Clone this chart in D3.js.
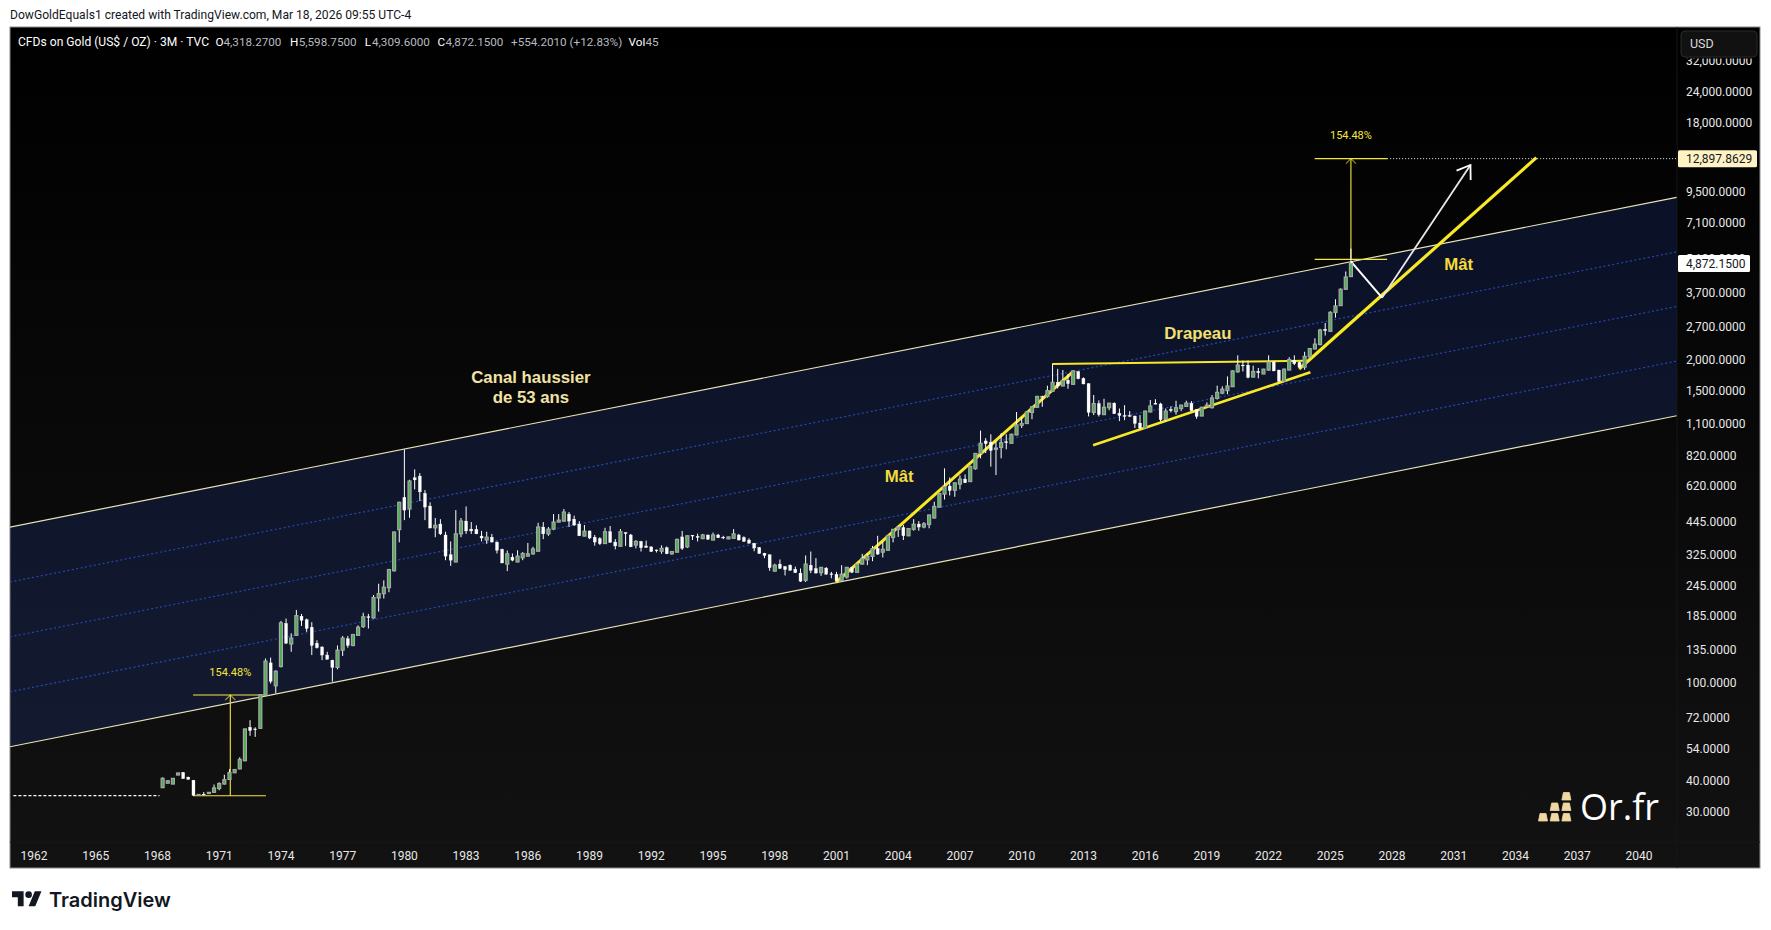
<!DOCTYPE html>
<html>
<head>
<meta charset="utf-8">
<title>CFDs on Gold</title>
<script src="https://cdn.jsdelivr.net/npm/d3@7"></script>
<style>
	html, body { margin:0; padding:0; background:#fff; }
	svg { display:block; }
	text { font-family:Roboto, sans-serif; }
</style>
</head>
<body>
<svg id="chart" width="1771" height="930"></svg>
<script>
// quarterly candles, first one is Q2 1968
var firstQuarter = 1968.25;
var opens = [37.7,39.3,39,42.4,43.4,41.6,40.4,35.1,35.5,35.7,36.1,37.4,39,40.7,43.3,44.9,48.4,66,65,65.4,
	89,120,97,116,173,143,155,185,179,167,144,139,129,123,115,135,150,141,155,168,
	184,182,219,228,241,282,413,557,500,668,679,578,514,420,435,393,327,306,397,447,
	415,414,389,375,385,368,344,300,320,306,318,323,330,338,423,397,415,443,447,477,
	455,435,389,408,385,380,363,405,368,354,402,393,358,370,355,352,342,338,349,330,
	335,386,352,392,388,380,393,375,393,385,379,381,393,384,375,364,350,332,327,281,
	300,293,297,286,276,258,297,288,277,289,274,273,257,266,290,278,300,312,322,347,
	335,341,384,414,421,390,414,435,423,433,460,509,574,619,595,630,660,645,727,838,
	940,930,870,885,933,920,994,1087,1105,1225,1285,1420,1420,1490,1620,1565,1650,1590,1790,1680,
	1600,1225,1330,1200,1280,1335,1215,1190,1190,1185,1110,1060,1230,1335,1325,1150,1260,1235,1270,1295,
	1335,1260,1185,1295,1280,1395,1465,1500,1555,1785,1900,1900,1700,1790,1750,1815,1955,1815,1635,1815,
	1980,1950,1865,2050,2206,2300,2650,2600,3095,3300,3840,4318.27];
var highs = [41.5,40.3,41.2,43.3,43.6,41.7,40.5,35.4,36.2,36.1,38.8,39.6,42.5,44.8,44.7,50,65.2,70.5,66,89.5,
	125,126,112,177,181,158,196,189,181,175,148,140,133,123.5,141,154,154,157,170,191,
	189,225,250,258,287,405,535,870,656,722,698,596,532,460,455,405,370,495,460,512,
	443,430,408,405,397,370,346,340,331,341,335,365,352,440,443,423,477,477,500,486,
	470,447,431,409,393,385,420,427,378,415,403,397,375,372,373,353,343,357,353,338,
	380,408,391,393,398,397,394,402,397,390,387,415,397,388,381,365,351,333,328,301,
	313,295,299,293,288,325,337,317,292,292,279,279,297,292,292,301,330,330,355,390,
	370,393,415,428,431,418,455,447,443,475,535,580,729,670,640,683,689,745,840,1035,
	965,1000,938,1010,1000,1005,1230,1175,1240,1295,1430,1430,1570,1915,1835,1815,1750,1810,1800,1695,
	1605,1440,1370,1390,1335,1345,1270,1310,1240,1188,1195,1245,1375,1385,1340,1270,1295,1365,1310,1365,
	1360,1262,1285,1345,1440,1570,1560,1710,1810,2080,1980,1980,1890,1850,1835,2080,1975,1818,1840,2045,
	2080,1960,2150,2225,2436,2660,2810,3130,3500,3870,4530,5598.75];
var lows = [37.6,39.2,38.9,42.3,41,40.6,35,35,35.2,35.6,36,36.8,38.8,40.5,43.2,44.7,48.2,61,60.4,65,
	88.5,99,90.5,115,143,133,154,169,160,129,137,123,124,100.8,113,128,138,140,154,166,
	165,181,193,218,231,280,367,451,461,600,538,451,419,385,393,311,295,305,385,397,
	397,396,370,362,367,331,303,281,308,305,311,322,327,337,378,390,411,441,445,423,
	427,389,388,378,356,358,362,366,344,353,355,351,347,337,349,336,334,330,329,327,
	334,342,348,375,370,378,375,374,382,378,378,380,374,369,363,338,330,317,282,280,
	287,270,282,276,254,254,276,275,269,272,263,256,256,262,276,277,299,297,308,327,
	319,340,367,386,375,389,409,409,418,418,458,508,546,567,560,600,636,644,720,800,
	840,741,685,800,870,918,992,1060,1103,1150,1283,1290,1405,1480,1530,1563,1525,1585,1665,1590,
	1180,1195,1180,1198,1250,1208,1130,1140,1178,1060,1050,1058,1228,1320,1125,1125,1225,1200,1240,1290,
	1245,1155,1183,1290,1270,1380,1450,1450,1553,1770,1790,1680,1698,1680,1748,1800,1795,1620,1633,1813,
	1900,1850,1820,2040,2203,2280,2500,2590,2950,3290,3830,4309.6];
var closes = [41.1,40.2,41.1,43.2,41,40.7,35.1,35.4,35.4,36.1,37.6,39.2,40.6,43.4,44.6,49,65,64,64.5,89.3,
	122,101,111,174,144,151,186,178,165,141,138,129,124,115,135,151,141,156,167,184,
	183,220,228,242,285,404,532,495,648,655,586,509,419,430,397,323,311,397,447,408,
	408,397,382,385,368,341,303,330,311,323,331,330,345,423,397,415,443,451,486,447,
	431,390,407,382,368,362,405,367,355,405,398,352,370,349,350,337,340,347,330,337,
	377,347,390,389,384,393,378,393,383,383,386,397,375,370,364,348,331,325,290,297,
	288,285,283,277,256,300,283,276,291,273,273,257,273,291,278,300,316,323,346,329,
	344,391,414,423,390,417,434,423,436,473,512,578,616,593,637,660,638,743,837,920,
	917,860,880,925,925,1000,1091,1105,1230,1290,1420,1415,1500,1620,1565,1650,1600,1800,1675,1595,
	1225,1330,1200,1285,1335,1210,1190,1183,1180,1105,1060,1240,1300,1322,1145,1240,1245,1280,1310,1335,
	1245,1180,1285,1310,1400,1475,1520,1565,1800,1900,1890,1695,1790,1770,1830,1955,1800,1635,1830,2000,
	1925,1865,2060,2215,2308,2630,2615,3100,3288,3840,4302,4872.15];

var yearTicks = [1962,1965,1968,1971,1974,1977,1980,1983,1986,1989,1992,1995,1998,2001,2004,2007,2010,2013,2016,2019,2022,2025,2028,2031,2034,2037,2040];
var priceTicks = [32000,24000,18000,9500,7100,5100,3700,2700,2000,1500,1100,820,620,445,325,245,185,135,100,72,54,40,30];

// channel borders [year, price]
var channelTop = [[1960.83,423],[2041.83,9012]];
var channelBottom = [[1960.83,55.1],[2041.83,1188]];
var channelLevels = [0.25,0.5,0.75];

// drawings [year, price]
var mast1 = [[2000.97,253],[2012.5,1787]];
var mast2 = [[2023.48,1833],[2035.01,13014]];
var flagTop = [[2011.48,1920],[2023.84,1979]];
var flagBottom = [[2013.47,903],[2024.03,1778]];
var whitePath = [[2026.01,4960],[2027.51,3552],[2031.81,12155]];
var preHistory = [[1961,35],[1968.1,35]];

// measure tools: base price, target price, years
var measures = [
	{ from:1969.73, to:1973.27, mid:1971.54, low:35, high:89.07, labelPrice:110.5 },
	{ from:2024.24, to:2027.76, mid:2026, low:5068.2, high:12897.8629, labelPrice:16060 }
];
var lastClose = 4872.15;
var targetPrice = 12897.8629;

var notes = [
	{ text:"Canal haussier", year:1986.15, price:1701, color:"#f3e2a6", size:16.8 },
	{ text:"de 53 ans", year:1986.15, price:1401, color:"#f3e2a6", size:16.8 },
	{ text:"Mât", year:2004.05, price:674, color:"#f4dc3c", size:16.8 },
	{ text:"Mât", year:2031.24, price:4853, color:"#f4dc3c", size:16.8 },
	{ text:"Drapeau", year:2018.56, price:2559, color:"#f3e070", size:16.8 }
];

var paneLeft = 10, paneTop = 27, paneRight = 1760, paneBottom = 868;
var plotRight = 1677, plotBottom = 842;

var x = d3.scaleLinear().domain([1962,2040]).range([34,1639]);
var y = d3.scaleLog().domain([30,24000]).range([812.3,91.7]);

var svg = d3.select("#chart");
var defs = svg.append("defs");

var bgGrad = defs.append("linearGradient").attr("id","paneBg")
	.attr("x1","0%").attr("y1","0%").attr("x2","0%").attr("y2","100%");
bgGrad.append("stop").attr("offset","0").attr("stop-color","#000000");
bgGrad.append("stop").attr("offset","1").attr("stop-color","#121212");

defs.append("clipPath").attr("id","plotClip").append("rect")
	.attr("x",paneLeft).attr("y",paneTop)
	.attr("width",plotRight-paneLeft).attr("height",plotBottom-paneTop);

// ---- frame and attribution
svg.append("text").attr("x",10).attr("y",19)
	.attr("fill","#131722").style("font-size","12.1px")
	.text("DowGoldEquals1 created with TradingView.com, Mar 18, 2026 09:55 UTC-4");

svg.append("rect").attr("x",paneLeft).attr("y",paneTop)
	.attr("width",paneRight-paneLeft).attr("height",paneBottom-paneTop)
	.attr("fill","url(#paneBg)").attr("stroke","#8a8a8a").attr("stroke-width",1);

svg.append("line").attr("x1",plotRight).attr("x2",plotRight).attr("y1",paneTop).attr("y2",paneBottom)
	.attr("stroke","#161616");
svg.append("line").attr("x1",paneLeft).attr("x2",paneRight).attr("y1",plotBottom).attr("y2",plotBottom)
	.attr("stroke","#161616");

var plot = svg.append("g").attr("clip-path","url(#plotClip)");
var toLine = d3.line().x(function(d){ return x(d[0]); }).y(function(d){ return y(d[1]); });

// ---- channel
var channelArea = channelTop.concat(channelBottom.slice().reverse());
plot.append("path").attr("d",toLine(channelArea)+"Z")
	.attr("fill","rgb(35,70,170)").attr("fill-opacity",0.22);

channelLevels.forEach(function(level){
	var points = channelTop.map(function(d,i){
		var lo = Math.log(channelBottom[i][1]), hi = Math.log(d[1]);
		return [d[0], Math.exp(lo+(hi-lo)*level)];
	});
	plot.append("path").attr("d",toLine(points))
		.attr("fill","none").attr("stroke","#2548b4").attr("stroke-width",1.2)
		.attr("stroke-dasharray","2 2.5");
});
[channelTop,channelBottom].forEach(function(border){
	plot.append("path").attr("d",toLine(border))
		.attr("fill","none").attr("stroke","#e8e4b8").attr("stroke-width",1.2);
});

// ---- dashed flat price before the first candle
plot.append("path").attr("d",toLine(preHistory))
	.attr("fill","none").attr("stroke","#ffffff").attr("stroke-width",1.2)
	.attr("stroke-dasharray","3 2");

// ---- thick yellow drawings
[[mast1,3],[mast2,3.2],[flagBottom,2.6],[flagTop,2]].forEach(function(d){
	plot.append("path").attr("d",toLine(d[0]))
		.attr("fill","none").attr("stroke","#f9e825").attr("stroke-width",d[1]);
});

// ---- measure tools
measures.forEach(function(m){
	var g = plot.append("g").attr("stroke","#f5e63a").attr("fill","none").attr("stroke-width",1.1);
	g.append("line").attr("x1",x(m.from)).attr("x2",x(m.to)).attr("y1",y(m.low)).attr("y2",y(m.low));
	g.append("line").attr("x1",x(m.from)).attr("x2",x(m.to)).attr("y1",y(m.high)).attr("y2",y(m.high));
	g.append("line").attr("x1",x(m.mid)).attr("x2",x(m.mid)).attr("y1",y(m.low)).attr("y2",y(m.high));
	g.append("path").attr("stroke-opacity",0.6)
		.attr("d","M"+(x(m.mid)-5)+","+(y(m.high)+5)+"L"+x(m.mid)+","+y(m.high)+"L"+(x(m.mid)+5)+","+(y(m.high)+5));
	plot.append("text").attr("x",x(m.mid)).attr("y",y(m.labelPrice)+4)
		.attr("text-anchor","middle").attr("fill","#f5e63a").style("font-size","11px")
		.text("154.48%");
});

// dotted target line
plot.append("line").attr("x1",x(measures[1].to)).attr("x2",plotRight)
	.attr("y1",y(targetPrice)).attr("y2",y(targetPrice))
	.attr("stroke","#eeeeee").attr("stroke-width",1).attr("stroke-dasharray","1 2");

// ---- white scenario path
plot.append("path").attr("d",toLine(whitePath.slice(0,2)))
	.attr("fill","none").attr("stroke","#ffffff").attr("stroke-width",2);
plot.append("path").attr("d",toLine(whitePath.slice(1)))
	.attr("fill","none").attr("stroke","#e8e8e8").attr("stroke-width",1.8);
var tip = whitePath[2], back = whitePath[1];
var angle = Math.atan2(y(back[1])-y(tip[1]), x(back[0])-x(tip[0]));
var headLen = 15;
plot.append("path")
	.attr("d","M"+(x(tip[0])+headLen*Math.cos(angle-0.6))+","+(y(tip[1])+headLen*Math.sin(angle-0.6))
		+"L"+x(tip[0])+","+y(tip[1])
		+"L"+(x(tip[0])+headLen*Math.cos(angle+0.6))+","+(y(tip[1])+headLen*Math.sin(angle+0.6)))
	.attr("fill","none").attr("stroke","#ffffff").attr("stroke-width",1.8);

// ---- candles
var candles = d3.range(opens.length);
var candle = plot.append("g").selectAll("g").data(candles).enter().append("g");
candle.append("line")
	.attr("x1",function(i){ return x(firstQuarter+i/4); })
	.attr("x2",function(i){ return x(firstQuarter+i/4); })
	.attr("y1",function(i){ return y(highs[i]); })
	.attr("y2",function(i){ return y(lows[i]); })
	.attr("stroke","#ffffff").attr("stroke-width",1);
candle.append("rect")
	.attr("x",function(i){ return x(firstQuarter+i/4)-1.5; })
	.attr("width",3)
	.attr("y",function(i){ return y(Math.max(opens[i],closes[i])); })
	.attr("height",function(i){ return Math.max(0.8,Math.abs(y(opens[i])-y(closes[i]))); })
	.attr("fill",function(i){ return closes[i]>=opens[i] ? "#4caf50" : "#ffffff"; })
	.attr("stroke",function(i){ return closes[i]>=opens[i] ? "#a6a6a6" : "#ffffff"; })
	.attr("stroke-width",function(i){ return closes[i]>=opens[i] ? 1.2 : 0.3; });

// ---- text notes
notes.forEach(function(n){
	plot.append("text").attr("x",x(n.year)).attr("y",y(n.price)+5.5)
		.attr("text-anchor","middle").attr("fill",n.color)
		.style("font-family","'Liberation Sans', Arial, sans-serif")
		.style("font-weight","bold").style("font-size",n.size+"px")
		.text(n.text);
});

// ---- time axis
svg.append("g").selectAll("text").data(yearTicks).enter().append("text")
	.attr("x",function(d){ return x(d); }).attr("y",860)
	.attr("text-anchor","middle").attr("fill","#e8e8e8").style("font-size","12px")
	.text(function(d){ return d; });

// ---- price axis
var priceFmt = d3.format(",.4f");
svg.append("g").selectAll("text").data(priceTicks).enter().append("text")
	.attr("x",1686).attr("y",function(d){ return y(d)+4; })
	.attr("fill","#e8e8e8").style("font-size","12px")
	.text(function(d){ return priceFmt(d); });

// last price and target labels
var axisLabels = [
	{ value:targetPrice, fill:"#fff3c4", width:79 },
	{ value:lastClose, fill:"#ffffff", width:72 }
];
axisLabels.forEach(function(l){
	svg.append("rect").attr("x",1678).attr("y",y(l.value)-8.5)
		.attr("width",l.width).attr("height",17).attr("rx",1.5).attr("fill",l.fill);
	svg.append("text").attr("x",1686).attr("y",y(l.value)+4)
		.attr("fill","#131722").style("font-size","12px")
		.text(priceFmt(l.value));
});

// USD button, it covers the top of the 32,000 tick
svg.append("rect").attr("x",1678).attr("y",28).attr("width",81).attr("height",30.5).attr("fill","#000000");
svg.append("rect").attr("x",1681).attr("y",31).attr("width",76).attr("height",26).attr("rx",4)
	.attr("fill","#111111").attr("stroke","#2b2b2b");
svg.append("text").attr("x",1690).attr("y",48).attr("fill","#d8d8d8").style("font-size","12.5px").text("USD");

// ---- legend line
var legendTitle = "CFDs on Gold (US$ / OZ) · 3M · TVC";
var legendParts = [
	{ x:18, text:legendTitle, color:"#ffffff", size:12.1 },
	{ x:215.6, text:"O", color:"#ffffff", size:11.7 }, { x:223.5, text:"4,318.2700", color:"#b7b9c0", size:11.7 },
	{ x:290, text:"H", color:"#ffffff", size:11.7 }, { x:298.7, text:"5,598.7500", color:"#b7b9c0", size:11.7 },
	{ x:364.7, text:"L", color:"#ffffff", size:11.7 }, { x:372, text:"4,309.6000", color:"#b7b9c0", size:11.7 },
	{ x:437.5, text:"C", color:"#ffffff", size:11.7 }, { x:445.5, text:"4,872.1500", color:"#b7b9c0", size:11.7 },
	{ x:511, text:"+554.2010 (+12.83%)", color:"#b7b9c0", size:11.7 },
	{ x:628.6, text:"Vol", color:"#ffffff", size:11.7 }, { x:645.5, text:"45", color:"#b7b9c0", size:11.7 }
];
svg.append("g").selectAll("text").data(legendParts).enter().append("text")
	.attr("x",function(d){ return d.x; }).attr("y",46)
	.attr("fill",function(d){ return d.color; }).style("font-size",function(d){ return d.size+"px"; })
	.text(function(d){ return d.text; });

// ---- Or.fr logo
var barRows = [[0,0],[1,0],[2,0],[1,1],[2,1],[2,2]];
svg.append("g").selectAll("path").data(barRows).enter().append("path")
	.attr("transform",function(d){ return "translate("+(1538.5+d[0]*11.7)+","+(821+d[1]*-10.5)+")"; })
	.attr("d","M1.5,-7.5L7.5,-7.5L9,0L0,0Z")
	.attr("fill","#f0d8a2").attr("stroke","#f0d8a2").attr("stroke-width",0.8).attr("stroke-linejoin","round");
svg.append("text").attr("x",1580).attr("y",820)
	.attr("fill","#ffffff").style("font-family","'Open Sans', sans-serif").style("font-size","36px")
	.text("Or.fr");

// ---- TradingView logo
var tv = svg.append("g").attr("transform","translate(12,888) scale(0.83)").attr("fill","#131722");
tv.append("path").attr("d","M14 22H7V11H0V4h14v18zM28 22h-8l7.5-18h8L28 22z");
tv.append("circle").attr("cx",20).attr("cy",8).attr("r",4);
svg.append("text").attr("x",49).attr("y",907)
	.attr("fill","#131722").style("font-family","Inter, sans-serif")
	.style("font-weight","600").style("font-size","20px").text("TradingView");
</script>
</body>
</html>
